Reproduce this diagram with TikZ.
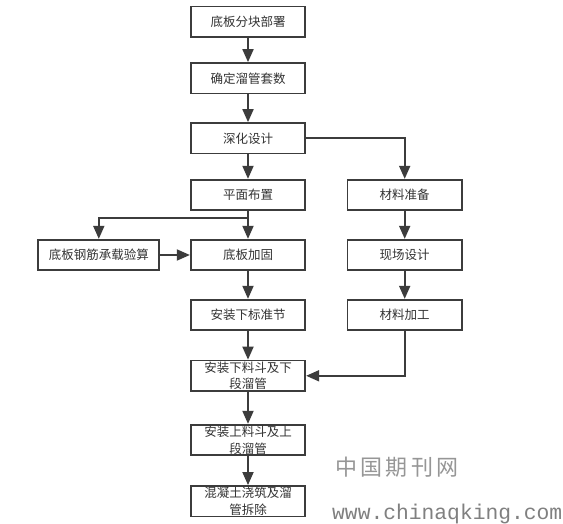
\documentclass[tikz,border=0pt]{standalone}
\usepackage{fontspec}
\newfontfamily\cjk{Noto Sans CJK SC}
\newfontfamily\wmono{Liberation Mono}
\usetikzlibrary{arrows.meta}
\definecolor{linec}{RGB}{60,60,60}
\definecolor{textc}{RGB}{51,51,51}
\definecolor{wmc}{RGB}{128,128,128}
\definecolor{wmcjk}{RGB}{150,150,150}
\begin{document}
\begin{tikzpicture}[x=1pt,y=-1pt,
  stepbox/.style={draw=linec,line width=1.8pt,fill=white,minimum width=114.5pt,minimum height=30.5pt,inner sep=0pt,
    font=\cjk\fontsize{12.5pt}{16.7pt}\selectfont,text=textc,align=center},
  arr/.style={draw=linec,line width=1.8pt,-{Triangle[length=13pt,width=11pt]}},
  wmark/.style={inner sep=0pt,text=wmc}]
\useasboundingbox (0,0) rectangle (563,524);
\fill[white] (0,0) rectangle (563,524);
% main column
\node[stepbox] (b1) at (248,21.7) {底板分块部署};
\node[stepbox] (b2) at (248,78.3) {确定溜管套数};
\node[stepbox] (b3) at (248,138.3) {深化设计};
\node[stepbox] (b4) at (248,195) {平面布置};
\node[stepbox] (b5) at (248,255) {底板加固};
\node[stepbox,minimum width=121pt] (lb) at (98.8,255) {底板钢筋承载验算};
\node[stepbox] (b6) at (248,315) {安装下标准节};
\node[stepbox] (b7) at (248,375.8) {安装下料斗及下\\段溜管};
\node[stepbox] (b8) at (248,440) {安装上料斗及上\\段溜管};
\node[stepbox] (b9) at (248,501.2) {混凝土浇筑及溜\\管拆除};
% right column
\node[stepbox] (r1) at (404.7,195) {材料准备};
\node[stepbox] (r2) at (404.7,255) {现场设计};
\node[stepbox] (r3) at (404.7,315) {材料加工};
\coordinate (j) at (248,218.3);
% connectors
\draw[arr] (b1) -- (b2);
\draw[arr] (b2) -- (b3);
\draw[arr] (b3) -- (b4);
\draw[arr] (b4) -- (b5);
\draw[arr] (j) -| (lb.north);
\draw[arr] (lb) -- (b5);
\draw[arr] (b5) -- (b6);
\draw[arr] (b6) -- (b7);
\draw[arr] (b7) -- (b8);
\draw[arr] (b8) -- (b9);
\draw[arr] (b3.east) -| (r1.north);
\draw[arr] (r1) -- (r2);
\draw[arr] (r2) -- (r3);
\draw[arr] (r3.south) |- (b7.east);
% watermark
\node[wmark,text=wmcjk,anchor=west,font=\cjk\fontsize{22pt}{22pt}\selectfont] (wm1) at (335,467) {中\hspace{3.3pt}国\hspace{3.3pt}期\hspace{3.3pt}刊\hspace{3.3pt}网};
\node[wmark,anchor=base west,font=\wmono\fontsize{21.3pt}{21.3pt}\selectfont] (wm2) at (332,519.7) {www.chinaqking.com};
\end{tikzpicture}
\end{document}
